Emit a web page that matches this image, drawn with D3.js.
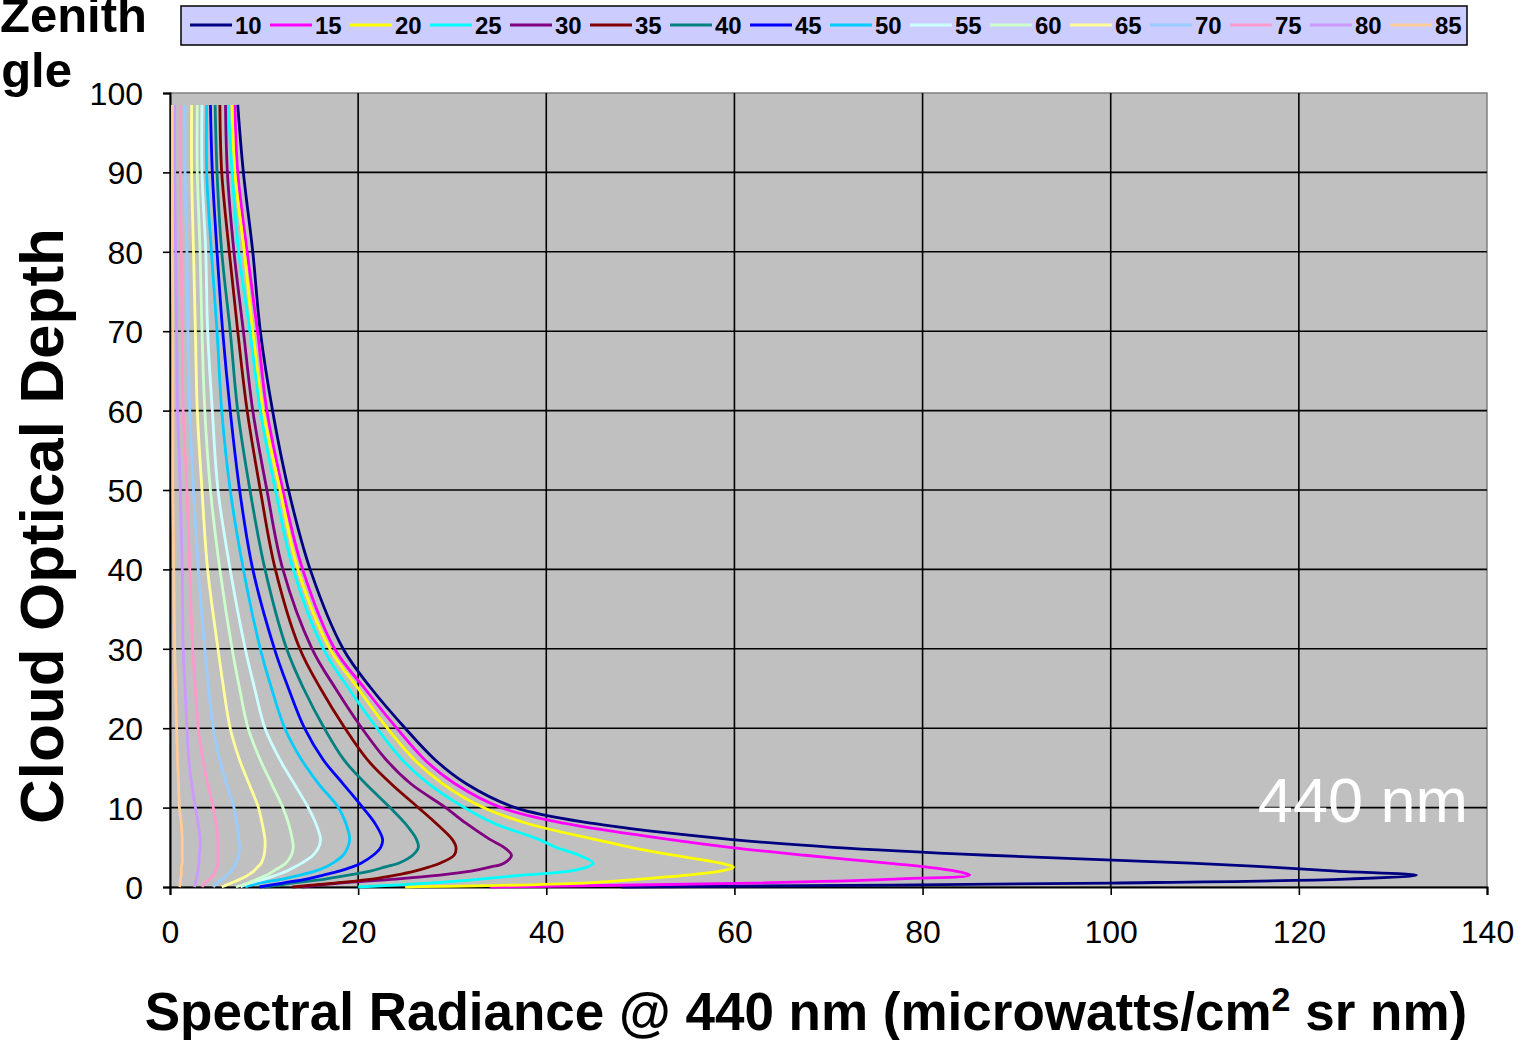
<!DOCTYPE html>
<html>
<head>
<meta charset="utf-8">
<script src="https://cdn.jsdelivr.net/npm/d3@7"></script>
<style>
  body { margin: 0; background: #ffffff; }
  svg { display: block; font-family: "Liberation Sans", Arial, sans-serif; }
</style>
</head>
<body>
<svg id="canvas"></svg>
<script>
// Cloud optical depth samples (y values shared by every series).
var opticalDepth = [0, 0.5, 1, 1.5, 2, 2.5, 3, 4, 5, 6, 8, 10, 13, 16, 20, 25, 30, 40, 50, 60, 70, 80, 90, 98.5];

// Zenith angles (legend labels).
var zenithAngles = [10, 15, 20, 25, 30, 35, 40, 45, 50, 55, 60, 65, 70, 75, 80, 85];

// Spectral radiance per zenith angle.
var radiance10 = [48, 100, 125, 132.5, 124, 117, 108.5, 87, 70.5, 59.5, 45, 36.7, 31.5, 28.2, 25.0, 21.4, 18.4, 14.9, 12.6, 10.9, 9.6, 8.8, 7.8, 7.2];
var radiance15 = [34, 62, 77, 85, 83.5, 80.5, 76.3, 67.5, 59.5, 53, 42, 35.2, 30.3, 27.1, 24.1, 20.7, 17.5, 14.1, 12.0, 10.3, 9.3, 8.2, 7.2, 6.9];
var radiance20 = [25, 44, 50, 55, 58.5, 59.9, 58.5, 53.5, 49, 45.2, 38, 33.3, 29, 26, 23.1, 20, 17.0, 13.6, 11.7, 9.9, 8.8, 7.9, 6.9, 6.6];
var radiance25 = [20, 27.5, 33, 37.5, 42.5, 44.3, 45, 43.5, 41, 39.2, 34.5, 31.3, 27.5, 24.7, 22.0, 19, 16.3, 13.1, 11.2, 9.6, 8.5, 7.3, 6.6, 6.2];
var radiance30 = [14, 18, 24, 28.7, 32, 34, 35.5, 36.3, 35.5, 34, 31.5, 29.3, 25.6, 23, 20.4, 17.6, 15.1, 12.0, 10.3, 8.8, 7.8, 6.8, 6.1, 5.9];
var radiance35 = [13, 17.5, 21.5, 24, 26, 27.5, 28.7, 30.2, 30.4, 30, 28.3, 26.4, 23.5, 21, 18.6, 16, 13.8, 11.2, 9.6, 8.2, 7.2, 6.3, 5.5, 5.3];
var radiance40 = [10, 13, 16.5, 19, 21.3, 22.8, 24.3, 25.8, 26.4, 26.2, 25, 23.4, 20.8, 18.5, 16.4, 14.2, 12.4, 10.1, 8.5, 7.2, 6.4, 5.5, 5.0, 4.8];
var radiance45 = [9.5, 12, 14.5, 16.3, 18, 19.3, 20.3, 21.6, 22.4, 22.6, 21.8, 20.5, 18.4, 16.3, 14.3, 12.6, 11.1, 8.8, 7.4, 6.4, 5.6, 5.0, 4.5, 4.3];
var radiance50 = [8, 9.5, 12, 13.8, 15.4, 16.5, 17.3, 18.4, 18.9, 19.1, 18.7, 17.9, 15.8, 14.0, 12.2, 10.8, 9.6, 7.8, 6.4, 5.5, 5.0, 4.4, 3.9, 3.9];
var radiance55 = [7.5, 8.5, 10, 11.3, 12.4, 13.2, 14, 15.2, 15.8, 16, 15.5, 14.7, 13.2, 11.7, 10.1, 9.0, 8.0, 6.4, 5.1, 4.5, 4.0, 3.8, 3.4, 3.4];
var radiance60 = [7, 8.3, 9.3, 10.3, 11, 11.7, 12.3, 12.9, 13.1, 13.0, 12.6, 12.0, 10.8, 9.6, 8.3, 7.4, 6.6, 5.3, 4.3, 3.7, 3.4, 3.2, 2.9, 2.9];
var radiance65 = [5.5, 6.5, 7.5, 8.3, 8.9, 9.3, 9.7, 10.0, 10.1, 10.1, 9.8, 9.4, 8.4, 7.4, 6.4, 5.7, 5.1, 4.0, 3.4, 2.9, 2.7, 2.5, 2.3, 2.3];
var radiance70 = [4.6, 5.0, 5.6, 6.1, 6.5, 6.8, 7.0, 7.3, 7.4, 7.3, 7.1, 6.8, 6.0, 5.3, 4.6, 4.1, 3.7, 3.0, 2.5, 2.1, 1.9, 1.8, 1.6, 1.6];
var radiance75 = [3.4, 3.7, 4.2, 4.6, 4.8, 5.0, 5.1, 5.1, 5.1, 5.1, 4.9, 4.6, 4.0, 3.5, 3.0, 2.7, 2.4, 2.1, 1.8, 1.4, 1.3, 1.2, 1.1, 1.1];
var radiance80 = [2.6, 2.7, 2.8, 2.9, 3.0, 3.0, 3.1, 3.1, 3.2, 3.2, 3.0, 2.7, 2.3, 2.0, 1.8, 1.6, 1.4, 1.3, 1.1, 0.8, 0.7, 0.6, 0.5, 0.5];
var radiance85 = [1.0, 1.1, 1.1, 1.2, 1.2, 1.2, 1.3, 1.3, 1.3, 1.3, 1.2, 1.0, 0.9, 0.8, 0.7, 0.6, 0.5, 0.4, 0.3, 0.3, 0.3, 0.25, 0.25, 0.25];

// Axis ticks.
var xTicks = [0, 20, 40, 60, 80, 100, 120, 140];
var yTicks = [0, 10, 20, 30, 40, 50, 60, 70, 80, 90, 100];

// Canvas and graph settings.
var canvas = {
  dim: { w: 1524, h: 1040 },
  plot: { left: 170, right: 1487, top: 93, bottom: 887 },
  colours: {
    plot: '#C0C0C0',
    legend: '#CCCCFF',
    series: ['#000080', '#FF00FF', '#FFFF00', '#00FFFF', '#800080', '#800000', '#008080', '#0000FF',
             '#00CCFF', '#CCFFFF', '#CCFFCC', '#FFFF99', '#99CCFF', '#FF99CC', '#CC99FF', '#FFCC99']
  }
};

// Build the series table.
var radianceSeries = [radiance10, radiance15, radiance20, radiance25, radiance30, radiance35, radiance40, radiance45,
                      radiance50, radiance55, radiance60, radiance65, radiance70, radiance75, radiance80, radiance85];

var series = zenithAngles.map(function(angle, i) {
  return {
    angle: angle,
    colour: canvas.colours.series[i],
    points: opticalDepth.map(function(t, j) {
      return { t: t, v: radianceSeries[i][j] };
    })
  };
});

// SVG canvas.
var svg = d3.select('#canvas')
            .attr('width', canvas.dim.w)
            .attr('height', canvas.dim.h);

// Scales.
var x = d3.scaleLinear().domain([0, 140]).range([canvas.plot.left, canvas.plot.right]);
var y = d3.scaleLinear().domain([0, 100]).range([canvas.plot.bottom, canvas.plot.top]);

// Plot area background.
svg.append('rect')
   .attr('x', canvas.plot.left)
   .attr('y', canvas.plot.top)
   .attr('width', canvas.plot.right - canvas.plot.left)
   .attr('height', canvas.plot.bottom - canvas.plot.top)
   .attr('fill', canvas.colours.plot)
   .attr('stroke', '#808080')
   .attr('stroke-width', 1.5);

// Gridlines.
var grid = svg.append('g');

grid.selectAll('line.h')
    .data(yTicks.filter(function(d) { return d > 0 && d < 100; }))
    .enter()
    .append('line')
    .attr('x1', canvas.plot.left)
    .attr('x2', canvas.plot.right)
    .attr('y1', function(d) { return y(d); })
    .attr('y2', function(d) { return y(d); })
    .attr('stroke', '#000')
    .attr('stroke-width', 1.6);

grid.selectAll('line.v')
    .data(xTicks.filter(function(d) { return d > 0 && d < 140; }))
    .enter()
    .append('line')
    .attr('x1', function(d) { return x(d); })
    .attr('x2', function(d) { return x(d); })
    .attr('y1', canvas.plot.top)
    .attr('y2', canvas.plot.bottom)
    .attr('stroke', '#000')
    .attr('stroke-width', 1.6);

// Axes.
var xAxis = d3.axisBottom(x).tickValues(xTicks).tickSize(8).tickPadding(29);
var yAxis = d3.axisLeft(y).tickValues(yTicks).tickSize(7).tickPadding(20);

var gx = svg.append('g')
            .attr('transform', 'translate(0,' + canvas.plot.bottom + ')')
            .call(xAxis);

var gy = svg.append('g')
            .attr('transform', 'translate(' + canvas.plot.left + ',0)')
            .call(yAxis);

[gx, gy].forEach(function(g) {
  g.select('.domain').attr('stroke', '#000').attr('stroke-width', 2);
  g.selectAll('.tick line').attr('stroke', '#000').attr('stroke-width', 1.6);
  g.selectAll('.tick text')
   .attr('fill', '#000')
   .style('font-family', '"Liberation Sans", Arial, sans-serif')
   .style('font-size', '32px');
});

gx.selectAll('.tick text').attr('dy', '0.6em');
gy.selectAll('.tick text').attr('dy', '0.36em');

// Curves.
var line = d3.line()
             .x(function(d) { return x(d.v); })
             .y(function(d) { return y(d.t); })
             .curve(d3.curveCatmullRom.alpha(0.5));

svg.append('g')
   .selectAll('path')
   .data(series)
   .enter()
   .append('path')
   .attr('d', function(d) { return line(d.points); })
   .attr('fill', 'none')
   .attr('stroke', function(d) { return d.colour; })
   .attr('stroke-width', 2.8)
   .attr('stroke-linejoin', 'round');

// Wavelength label.
svg.append('text')
   .attr('x', 1468)
   .attr('y', 822)
   .attr('text-anchor', 'end')
   .attr('fill', '#ffffff')
   .style('font-size', '63px')
   .text('440 nm');

// Legend.
var legend = svg.append('g');

legend.append('rect')
      .attr('x', 181)
      .attr('y', 6)
      .attr('width', 1286)
      .attr('height', 39)
      .attr('fill', canvas.colours.legend)
      .attr('stroke', '#000')
      .attr('stroke-width', 1.5);

var entry = legend.selectAll('g.entry')
                  .data(series)
                  .enter()
                  .append('g')
                  .attr('transform', function(d, i) { return 'translate(' + (190 + i * 80) + ',25)'; });

entry.append('line')
     .attr('x1', 0)
     .attr('x2', 42)
     .attr('stroke', function(d) { return d.colour; })
     .attr('stroke-width', 3);

entry.append('text')
     .attr('x', 45)
     .attr('dy', '0.36em')
     .style('font-family', '"Liberation Sans Narrow", "Arial Narrow", "Liberation Sans", sans-serif')
     .style('font-size', '24px')
     .style('font-weight', 'bold')
     .text(function(d) { return d.angle; });

// Legend title (clipped at the page edge, as in the original).
svg.append('text')
   .attr('x', 0)
   .attr('y', 32)
   .style('font-size', '49px')
   .style('font-weight', 'bold')
   .text('Zenith');

svg.append('text')
   .attr('x', 72)
   .attr('y', 87)
   .attr('text-anchor', 'end')
   .style('font-size', '49px')
   .style('font-weight', 'bold')
   .text('Angle');

// Axis titles.
svg.append('text')
   .attr('transform', 'translate(63,526) rotate(-90)')
   .attr('text-anchor', 'middle')
   .style('font-size', '62px')
   .style('font-weight', 'bold')
   .text('Cloud Optical Depth');

var xTitle = svg.append('text')
                .attr('x', 806)
                .attr('y', 1030)
                .attr('text-anchor', 'middle')
                .style('font-size', '53px')
                .style('font-weight', 'bold');

xTitle.append('tspan').text('Spectral Radiance @ 440 nm (microwatts/cm');
xTitle.append('tspan').attr('dy', -19).style('font-size', '34px').text('2');
xTitle.append('tspan').attr('dy', 19).text(' sr nm)');
</script>
</body>
</html>
